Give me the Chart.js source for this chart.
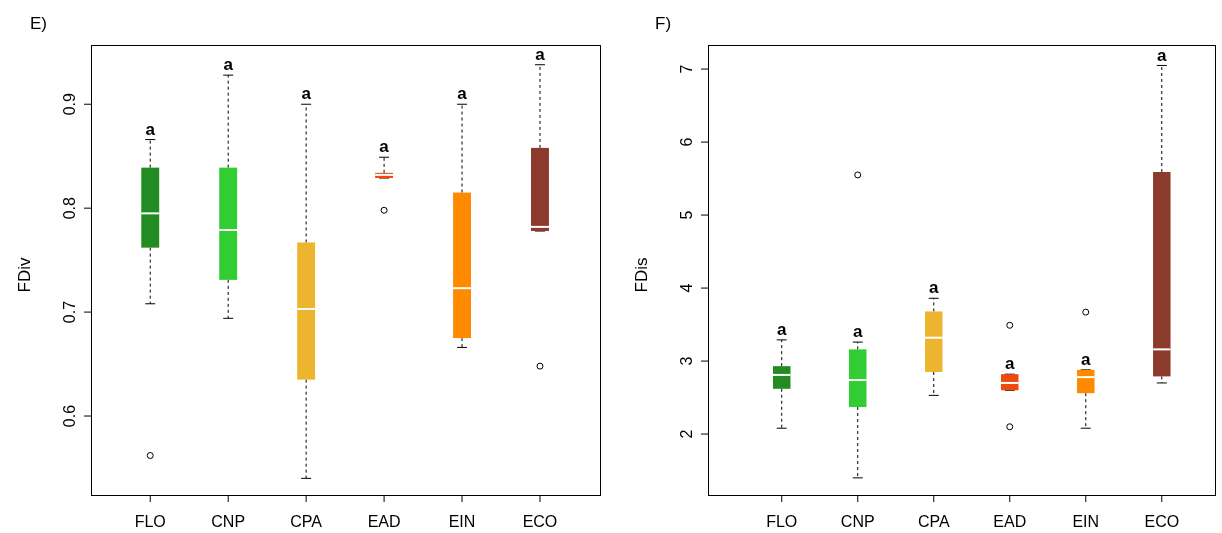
<!DOCTYPE html>
<html>
<head>
<meta charset="utf-8">
<script src="https://cdn.jsdelivr.net/npm/chart.js@4"></script>
<style>
  body { margin: 0; background: #fff; }
  .wrap { display: flex; width: 1222px; height: 533px; }
  .cell { position: relative; width: 611px; height: 533px; }
</style>
</head>
<body>
<div class="wrap">
  <div class="cell"><canvas id="chartE"></canvas></div>
  <div class="cell"><canvas id="chartF"></canvas></div>
</div>
<script>
// ---- data ----
const categories = ['FLO', 'CNP', 'CPA', 'EAD', 'EIN', 'ECO'];
const colors = ['#228B22', '#32CD32', '#EDB52F', '#EE4A0E', '#FF8A00', '#8B3A2B'];

// [low whisker, Q1, median, Q3, high whisker]
const fdivStats = [
  [0.708, 0.762, 0.795, 0.839, 0.866],
  [0.694, 0.731, 0.779, 0.839, 0.928],
  [0.540, 0.635, 0.703, 0.767, 0.900],
  [0.829, 0.829, 0.832, 0.834, 0.849],
  [0.666, 0.675, 0.723, 0.815, 0.900],
  [0.778, 0.778, 0.782, 0.858, 0.938]
];
const fdivOutliers = [[0.562], [], [], [0.798], [], [0.648]];
const fdivLetters = ['a', 'a', 'a', 'a', 'a', 'a'];
const fdivTicks = [0.6, 0.7, 0.8, 0.9];

const fdisStats = [
  [2.08, 2.62, 2.81, 2.93, 3.29],
  [1.40, 2.37, 2.74, 3.16, 3.26],
  [2.53, 2.85, 3.32, 3.68, 3.86],
  [2.60, 2.60, 2.70, 2.82, 2.82],
  [2.08, 2.56, 2.78, 2.88, 2.88],
  [2.70, 2.79, 3.16, 5.59, 7.05]
];
const fdisOutliers = [[], [5.55], [], [3.49, 2.10], [3.67], []];
const fdisLetters = ['a', 'a', 'a', 'a', 'a', 'a'];
const fdisTicks = [2, 3, 4, 5, 6, 7];

const FONT = '"Liberation Sans", Arial, sans-serif';

function boxPlugin(stats, outliers, letters, yTicks, panel, yTitle) {
  return {
    id: 'box' + panel,
    afterDatasetsDraw(chart) {
      const ctx = chart.ctx, xs = chart.scales.x, ys = chart.scales.y;
      const a = chart.chartArea;
      const half = (xs.getPixelForValue(1.115) - xs.getPixelForValue(1));
      ctx.save();
      stats.forEach((s, i) => {
        const cx = xs.getPixelForValue(i + 1);
        const [lo, q1, md, q3, hi] = s.map(v => ys.getPixelForValue(v));
        // whiskers
        ctx.strokeStyle = '#000'; ctx.lineWidth = 1;
        ctx.setLineDash([3, 3]);
        ctx.beginPath();
        ctx.moveTo(cx, q3); ctx.lineTo(cx, hi);
        ctx.moveTo(cx, q1); ctx.lineTo(cx, lo);
        ctx.stroke();
        ctx.setLineDash([]);
        ctx.beginPath();
        ctx.moveTo(cx - 5, hi); ctx.lineTo(cx + 5, hi);
        ctx.moveTo(cx - 5, lo); ctx.lineTo(cx + 5, lo);
        ctx.stroke();
        // box
        ctx.fillStyle = colors[i];
        ctx.fillRect(cx - half, q3, half * 2, Math.max(q1 - q3, 5));
        // median
        ctx.strokeStyle = '#fff'; ctx.lineWidth = 2;
        ctx.beginPath(); ctx.moveTo(cx - half, md); ctx.lineTo(cx + half, md); ctx.stroke();
        // outliers
        ctx.strokeStyle = '#000'; ctx.lineWidth = 1;
        outliers[i].forEach(v => {
          ctx.beginPath(); ctx.arc(cx, ys.getPixelForValue(v), 3, 0, Math.PI * 2); ctx.stroke();
        });
        // letter
        ctx.fillStyle = '#000'; ctx.font = 'bold 17px ' + FONT;
        ctx.textAlign = 'center'; ctx.textBaseline = 'bottom';
        ctx.fillText(letters[i], cx, hi - 1);
        // x tick + label
        ctx.beginPath(); ctx.moveTo(cx, a.bottom); ctx.lineTo(cx, a.bottom + 7); ctx.stroke();
        ctx.font = '16px ' + FONT; ctx.textBaseline = 'middle';
        ctx.fillText(categories[i], cx, a.bottom + 28);
      });
      // frame
      ctx.strokeStyle = '#000'; ctx.lineWidth = 1;
      ctx.strokeRect(a.left + 0.5, a.top + 0.5, a.right - a.left, a.bottom - a.top);
      // y ticks (rotated labels)
      ctx.font = '16px ' + FONT; ctx.fillStyle = '#000';
      ctx.textAlign = 'center'; ctx.textBaseline = 'bottom';
      yTicks.forEach(t => {
        const y = ys.getPixelForValue(t);
        ctx.beginPath(); ctx.moveTo(a.left, y); ctx.lineTo(a.left - 7, y); ctx.stroke();
        ctx.save(); ctx.translate(a.left - 12, y); ctx.rotate(-Math.PI / 2);
        ctx.fillText(String(t), 0, 0); ctx.restore();
      });
      // titles
      ctx.save(); ctx.translate(panel === 'E' ? 25 : 31, (a.top + a.bottom) / 2 + 5);
      ctx.rotate(-Math.PI / 2); ctx.textBaseline = 'middle'; ctx.font = '17px ' + FONT;
      ctx.fillText(yTitle, 0, 0); ctx.restore();
      ctx.textAlign = 'left'; ctx.textBaseline = 'middle'; ctx.font = '17px ' + FONT;
      ctx.fillText(panel + ')', panel === 'E' ? 30 : 44, 24);
      ctx.restore();
    }
  };
}

function makeChart(id, stats, outliers, letters, yTicks, panel, yTitle, xr, yr, pad) {
  new Chart(document.getElementById(id), {
    type: 'scatter',
    data: { datasets: [{ data: [], pointRadius: 0 }] },
    options: {
      responsive: true, maintainAspectRatio: false, animation: false,
      layout: { padding: pad },
      plugins: { legend: { display: false }, tooltip: { enabled: false } },
      scales: {
        x: { type: 'linear', display: false, min: xr[0], max: xr[1] },
        y: { type: 'linear', display: false, min: yr[0], max: yr[1] }
      }
    },
    plugins: [boxPlugin(stats, outliers, letters, yTicks, panel, yTitle)]
  });
}

makeChart('chartE', fdivStats, fdivOutliers, fdivLetters, fdivTicks, 'E', 'FDiv',
  [0.24, 6.77], [0.524, 0.957], { left: 91, right: 11, top: 45, bottom: 38 });
makeChart('chartF', fdisStats, fdisOutliers, fdisLetters, fdisTicks, 'F', 'FDis',
  [0.03, 6.70], [1.165, 7.33], { left: 97, right: 7, top: 45, bottom: 38 });
</script>
</body>
</html>
